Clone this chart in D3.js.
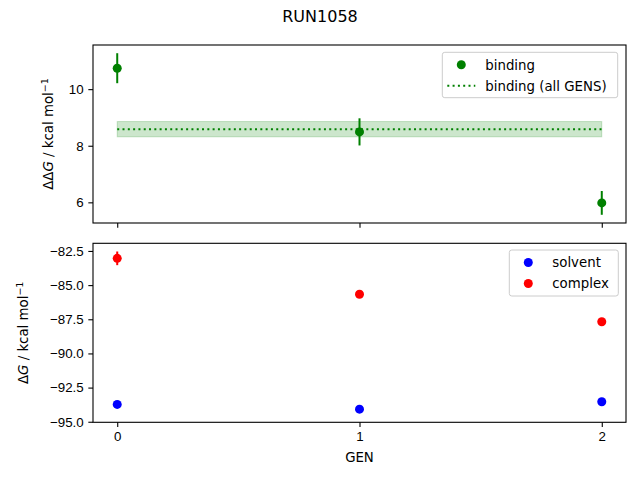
<!DOCTYPE html>
<html>
<head>
<meta charset="utf-8">
<script src="https://cdn.jsdelivr.net/npm/d3@7"></script>
<style>
  body { margin: 0; background: #fff; }
  svg { font-family: "DejaVu Sans", sans-serif; }
  .tick text { font-size: 13.33px; fill: #000; }
</style>
</head>
<body>
<div id="chart"></div>
<script>
// values
const gens = [0, 1, 2];
const binding = [10.74, 8.49, 5.98];
const bindingErr = [0.53, 0.48, 0.42];
const bindingAll = 8.585;
const bindingAllErr = 0.27;
const solvent = [-93.73, -94.08, -93.54];
const solventErr = [0.1, 0.1, 0.1];
const complex = [-83.04, -85.67, -87.68];
const complexErr = [0.5, 0.15, 0.15];
const topTicks = [6, 8, 10];
const bottomTicks = [-95.0, -92.5, -90.0, -87.5, -85.0, -82.5];

const width = 640, height = 480;
const left = 93, right = 626;

const svg = d3.select("#chart").append("svg")
    .attr("width", width)
    .attr("height", height);

svg.append("text")
    .attr("x", width / 2)
    .attr("y", 22)
    .attr("text-anchor", "middle")
    .attr("font-size", 16)
    .text("RUN1058");

const x = d3.scaleLinear().domain([-0.1, 2.1]).range([left, right]);

const topY = d3.scaleLinear().domain([5.27, 11.56]).range([223, 45]);
const bottomY = d3.scaleLinear().domain([-95.04, -81.94]).range([422.3, 243.3]);

const drawFrame = (y, yTicks, fmt, showX) => {
    const g = svg.append("g");
    g.append("g")
        .attr("transform", `translate(0,${y.range()[0]})`)
        .call(d3.axisBottom(x).tickValues(gens).tickSize(4.67).tickPadding(4.67)
            .tickFormat(showX ? d3.format("d") : ""))
        .call(a => a.select(".domain").remove());
    g.append("g")
        .attr("transform", `translate(${left},0)`)
        .call(d3.axisLeft(y).tickValues(yTicks).tickSize(4.67).tickPadding(4.67)
            .tickFormat(d => fmt(d).replace("-", "\u2212")))
        .call(a => a.select(".domain").remove());
    g.selectAll(".tick line").attr("stroke", "#000").attr("stroke-width", 1.1);
    g.append("rect")
        .attr("x", left).attr("y", y.range()[1])
        .attr("width", right - left).attr("height", y.range()[0] - y.range()[1])
        .attr("fill", "none").attr("stroke", "#000").attr("stroke-width", 1.1);
    return g;
};

const errorDots = (g, y, vals, errs, color) => {
    g.selectAll(null).data(vals).enter().append("line")
        .attr("x1", (d, i) => x(gens[i])).attr("x2", (d, i) => x(gens[i]))
        .attr("y1", (d, i) => y(d - errs[i])).attr("y2", (d, i) => y(d + errs[i]))
        .attr("stroke", color).attr("stroke-width", 2);
    g.selectAll(null).data(vals).enter().append("circle")
        .attr("cx", (d, i) => x(gens[i]))
        .attr("cy", d => y(d))
        .attr("r", 4.5)
        .attr("fill", color);
};

const legend = (g, x0, y0, w, h, items) => {
    g.append("rect")
        .attr("x", x0).attr("y", y0).attr("width", w).attr("height", h)
        .attr("rx", 2.5).attr("fill", "#fff").attr("fill-opacity", 0.8)
        .attr("stroke", "#ccc").attr("stroke-width", 1);
    items.forEach((it, i) => {
        const cy = y0 + 12.5 + i * 21;
        if (it.type === "dot") {
            g.append("circle").attr("cx", x0 + 19).attr("cy", cy).attr("r", 4.5).attr("fill", it.color);
        } else {
            g.append("line").attr("x1", x0 + 5).attr("x2", x0 + 33).attr("y1", cy).attr("y2", cy)
                .attr("stroke", it.color).attr("stroke-width", 2).attr("stroke-dasharray", "2,3.3");
        }
        g.append("text").attr("x", x0 + 43).attr("y", cy + 4.8)
            .attr("font-size", 13.33).text(it.label);
    });
};

// top panel
const gTop = drawFrame(topY, topTicks, d3.format("d"), false);

gTop.append("rect")
    .attr("x", x(gens[0])).attr("width", x(gens[2]) - x(gens[0]))
    .attr("y", topY(bindingAll + bindingAllErr))
    .attr("height", topY(bindingAll - bindingAllErr) - topY(bindingAll + bindingAllErr))
    .attr("fill", "green").attr("fill-opacity", 0.2)
    .attr("stroke", "green").attr("stroke-opacity", 0.2);
gTop.append("line")
    .attr("x1", x(gens[0])).attr("x2", x(gens[2]))
    .attr("y1", topY(bindingAll)).attr("y2", topY(bindingAll))
    .attr("stroke", "green").attr("stroke-width", 2).attr("stroke-dasharray", "2,3.3");
errorDots(gTop, topY, binding, bindingErr, "green");
legend(gTop, 442.3, 52.3, 175.4, 45.4, [
    { type: "dot", color: "green", label: "binding" },
    { type: "line", color: "green", label: "binding (all GENS)" }
]);

const yl1 = svg.append("text")
    .attr("transform", `translate(53,${(45 + 223) / 2}) rotate(-90)`)
    .attr("text-anchor", "middle").attr("font-size", 13.33);
yl1.append("tspan").text("\u0394\u0394");
yl1.append("tspan").attr("font-style", "italic").text("G");
yl1.append("tspan").text(" / kcal mol");
yl1.append("tspan").attr("dy", -5).attr("font-size", 9.5).text("\u22121");

// bottom panel
const gBot = drawFrame(bottomY, bottomTicks, d3.format(".1f"), true);
errorDots(gBot, bottomY, solvent, solventErr, "blue");
errorDots(gBot, bottomY, complex, complexErr, "red");
legend(gBot, 509.3, 250, 109, 46, [
    { type: "dot", color: "blue", label: "solvent" },
    { type: "dot", color: "red", label: "complex" }
]);

const yl2 = svg.append("text")
    .attr("transform", `translate(28,${(243.3 + 422.3) / 2}) rotate(-90)`)
    .attr("text-anchor", "middle").attr("font-size", 13.33);
yl2.append("tspan").text("\u0394");
yl2.append("tspan").attr("font-style", "italic").text("G");
yl2.append("tspan").text(" / kcal mol");
yl2.append("tspan").attr("dy", -5).attr("font-size", 9.5).text("\u22121");

svg.append("text")
    .attr("x", (left + right) / 2).attr("y", 462)
    .attr("text-anchor", "middle").attr("font-size", 13.33)
    .text("GEN");
</script>
</body>
</html>
